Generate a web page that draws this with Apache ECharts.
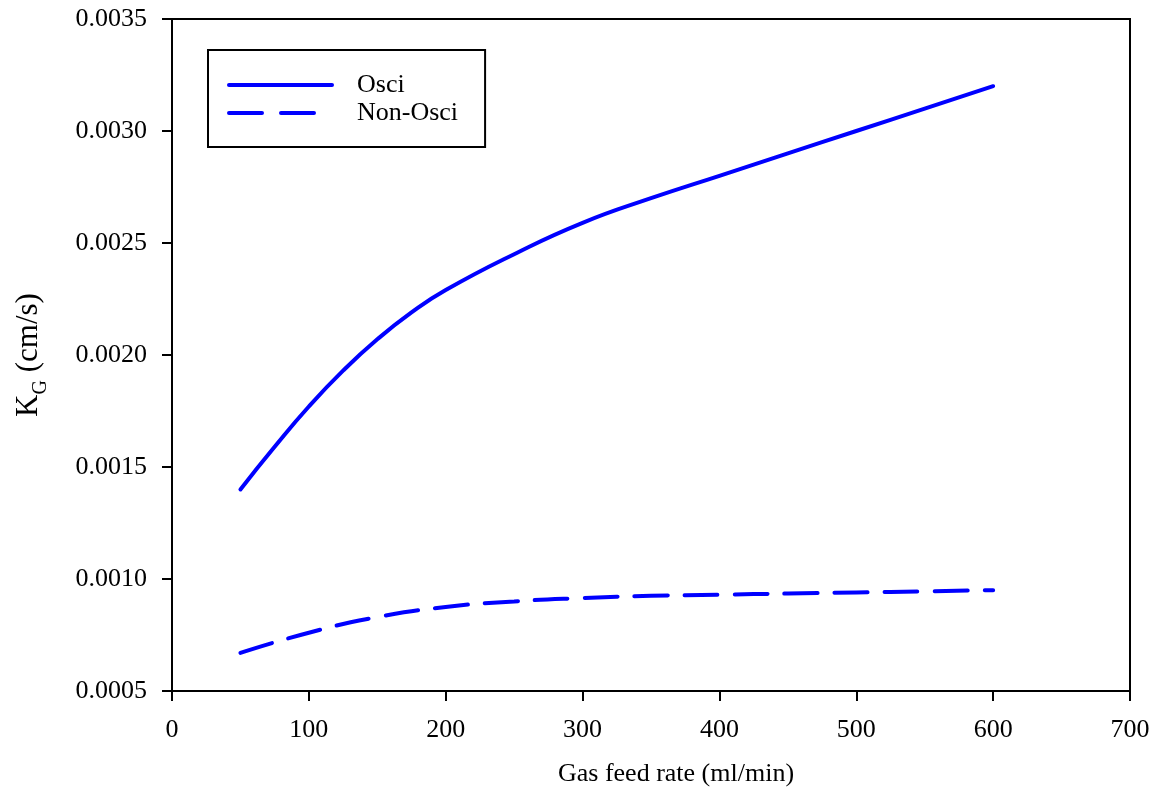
<!DOCTYPE html>
<html>
<head>
<meta charset="utf-8">
<script src="https://cdn.jsdelivr.net/npm/echarts@6/dist/echarts.min.js"></script>
<style>html,body{margin:0;padding:0;background:#fff;}#c{width:1159px;height:805px;}</style>
</head>
<body>
<div id="c"></div>
<script>
const gasRate = [50, 75, 100, 125, 150, 175, 200, 250, 300, 350, 400, 450, 500, 550, 600];
const osci = [0.00140, 0.00159, 0.00177, 0.00193, 0.00207, 0.00219, 0.00229, 0.00245, 0.00259, 0.00270, 0.00280, 0.00290, 0.00300, 0.00310, 0.00320];
const gasRateNon = [50, 100, 150, 200, 250, 300, 350, 400, 450, 500, 550, 600];
const nonOsci = [0.00067, 0.00076, 0.00083, 0.000875, 0.00090, 0.000915, 0.000925, 0.00093, 0.000935, 0.00094, 0.000945, 0.00095];
const seriesNames = ['Osci', 'Non-Osci'];

const font = 'Liberation Serif, Times New Roman, serif';
const blue = '#0000ff';
const chart = echarts.init(document.getElementById('c'));
chart.setOption({
  animation: false,
  backgroundColor: '#fff',
  grid: { left: 172, right: 29, top: 19, bottom: 114, show: true, borderColor: '#000', borderWidth: 2 },
  legend: {
    left: 208, top: 50,
    orient: 'vertical',
    borderColor: '#000', borderWidth: 2,
    padding: [22, 27, 21, 19],
    itemWidth: 103, itemHeight: 24, itemGap: 2,
    itemStyle: { opacity: 0 },
    textStyle: { fontFamily: font, fontSize: 26, color: '#000', padding: [0, 0, 0, 20], lineHeight: 24 },
    data: [
      { name: seriesNames[0], lineStyle: { color: blue, width: 4, cap: 'round' } },
      { name: seriesNames[1], lineStyle: { color: blue, width: 4, type: [33, 19], cap: 'round' } }
    ]
  },
  xAxis: {
    type: 'value', min: 0, max: 700, interval: 100,
    name: 'Gas feed rate (ml/min)', nameLocation: 'middle', nameGap: 70,
    nameTextStyle: { fontFamily: font, fontSize: 26, color: '#000', padding: [0, 0, 0, 50] },
    axisLine: { show: true, lineStyle: { color: '#000', width: 2 } },
    axisTick: { show: true, length: 10, lineStyle: { color: '#000', width: 2 } },
    axisLabel: { fontFamily: font, fontSize: 26, color: '#000', margin: 26 },
    splitLine: { show: false }
  },
  yAxis: {
    type: 'value', min: 0.0005, max: 0.0035, interval: 0.0005,
    name: '{m|K}{s|G}{m| (cm/s)}', nameLocation: 'middle', nameGap: 128, nameRotate: 90,
    nameTextStyle: {
      fontFamily: font, color: '#000',
      rich: {
        m: { fontFamily: font, fontSize: 31, color: '#000', lineHeight: 34, verticalAlign: 'bottom' },
        s: { fontFamily: font, fontSize: 20, color: '#000', lineHeight: 34, verticalAlign: 'bottom', padding: [0, 0, -7, 0] }
      }
    },
    axisLine: { show: true, lineStyle: { color: '#000', width: 2 } },
    axisTick: { show: true, length: 10, lineStyle: { color: '#000', width: 2 } },
    axisLabel: { fontFamily: font, fontSize: 26, color: '#000', margin: 25, formatter: v => v.toFixed(4) },
    splitLine: { show: false }
  },
  series: [
    {
      name: seriesNames[0], type: 'line', smooth: true, symbol: 'none',
      data: gasRate.map((x, i) => [x, osci[i]]),
      lineStyle: { color: blue, width: 4, cap: 'round' },
      itemStyle: { color: blue }
    },
    {
      name: seriesNames[1], type: 'line', smooth: true, symbol: 'none',
      data: gasRateNon.map((x, i) => [x, nonOsci[i]]),
      lineStyle: { color: blue, width: 4, type: [33, 17], cap: 'round' },
      itemStyle: { color: blue }
    }
  ]
});
</script>
</body>
</html>
